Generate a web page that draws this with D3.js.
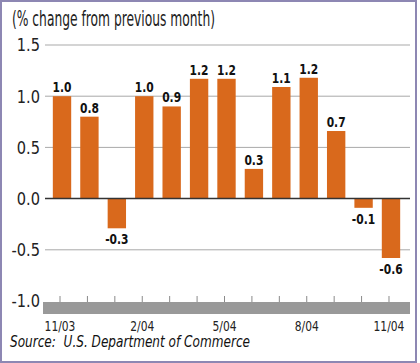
<!DOCTYPE html>
<meta charset="utf-8">
<style>
body { margin: 0; background: #fff; }
text { font-family: "Liberation Sans Narrow", "DejaVu Sans Condensed", Roboto, sans-serif; }
</style>
<body>
<div id="box1"></div>
</body>
<script src="https://d3js.org/d3.v7.min.js"></script>
<script>

var width = 420, height = 363;

// data
var months = ["11/03", "12/03", "1/04", "2/04", "3/04", "4/04", "5/04", "6/04", "7/04", "8/04", "9/04", "10/04", "11/04"];
var change = [1.0, 0.8, -0.29, 1.0, 0.9, 1.17, 1.17, 0.29, 1.09, 1.18, 0.66, -0.09, -0.58];
var yTicks = [1.5, 1.0, 0.5, 0.0, -0.5, -1.0];
var xLabels = ["11/03", "2/04", "5/04", "8/04", "11/04"];

var data = months.map((m, i) => ({month: m, value: change[i]}));

var xScale = d3.scaleBand()
  .domain(months)
  .range([48.3, 404.7])
  .paddingInner(0.33)
  .paddingOuter(0.165);

var yScale = d3.scaleLinear()
  .domain([-1, 1.5])
  .range([301, 45]);

var svg = d3.select("#box1").append("svg")
  .attr("width", width)
  .attr("height", height);

// squeeze text horizontally to mimic the condensed face of the original
function condense(sel, f) {
  sel.each(function() {
    var w = this.getComputedTextLength();
    d3.select(this)
      .attr("textLength", w * f)
      .attr("lengthAdjust", "spacingAndGlyphs");
  });
}

// frame
svg.append("rect")
  .attr("x", 1).attr("y", 1)
  .attr("width", 415).attr("height", 361)
  .attr("fill", "#fff")
  .attr("stroke", "#8d87b3")
  .attr("stroke-width", 2);

// gridlines
svg.selectAll(".grid")
  .data(yTicks.filter(d => d > -1 && d !== 0))
  .join("line")
    .attr("class", "grid")
    .attr("x1", 45).attr("x2", 410)
    .attr("y1", d => yScale(d)).attr("y2", d => yScale(d))
    .attr("stroke", "#a9a9a9")
    .attr("stroke-width", 1);

// y labels
svg.selectAll(".ylab")
  .data(yTicks)
  .join("text")
    .attr("class", "ylab")
    .attr("x", 40)
    .attr("y", d => yScale(d))
    .attr("dy", "0.36em")
    .attr("text-anchor", "end")
    .style("font-size", "18px")
    .style("fill", "#222")
    .text(d => d.toFixed(1))
    .call(condense, 0.9);

// bars
svg.selectAll(".bar")
  .data(data)
  .join("rect")
    .attr("class", "bar")
    .attr("x", d => xScale(d.month))
    .attr("width", xScale.bandwidth())
    .attr("y", d => yScale(Math.max(0, d.value)))
    .attr("height", d => Math.abs(yScale(d.value) - yScale(0)))
    .attr("fill", "#d9691c");

// zero line
svg.append("line")
  .attr("x1", 45).attr("x2", 410)
  .attr("y1", yScale(0)).attr("y2", yScale(0))
  .attr("stroke", "#333")
  .attr("stroke-width", 1.5);

// value labels
svg.selectAll(".vlab")
  .data(data)
  .join("text")
    .attr("class", "vlab")
    .attr("x", d => xScale(d.month) + xScale.bandwidth() / 2)
    .attr("y", d => d.value >= 0 ? yScale(d.value) - 4 : yScale(d.value) + 16)
    .attr("text-anchor", "middle")
    .style("font-size", "14px")
    .style("font-weight", "bold")
    .style("fill", "#111")
    .text(d => d.value.toFixed(1))
    .call(condense, 0.85);

// gray axis band at -1.0
svg.append("rect")
  .attr("x", 43).attr("y", 302)
  .attr("width", 367).attr("height", 12)
  .attr("fill", "#999");

svg.selectAll(".tick")
  .data(months)
  .join("line")
    .attr("class", "tick")
    .attr("x1", d => xScale(d) + xScale.bandwidth() / 2 - 2)
    .attr("x2", d => xScale(d) + xScale.bandwidth() / 2 - 2)
    .attr("y1", 296).attr("y2", 302)
    .attr("stroke", "#8a8a8a")
    .attr("stroke-width", 1);

svg.selectAll(".xlab")
  .data(xLabels)
  .join("text")
    .attr("class", "xlab")
    .attr("x", d => xScale(d) + xScale.bandwidth() / 2 - 2)
    .attr("y", 331)
    .attr("text-anchor", "middle")
    .style("font-size", "14px")
    .style("fill", "#222")
    .text(d => d)
    .call(condense, 0.85);

// title and source
svg.append("text")
  .attr("x", 12).attr("y", 26)
  .style("font-size", "21px")
  .style("fill", "#222")
  .attr("textLength", 203)
  .attr("lengthAdjust", "spacingAndGlyphs")
  .text("(% change from previous month)");

svg.append("text")
  .attr("x", 10).attr("y", 347)
  .style("font-size", "15px")
  .style("font-style", "italic")
  .style("fill", "#111")
  .style("white-space", "pre")
  .attr("textLength", 240)
  .attr("lengthAdjust", "spacingAndGlyphs")
  .text("Source:  U.S. Department of Commerce");

</script>
